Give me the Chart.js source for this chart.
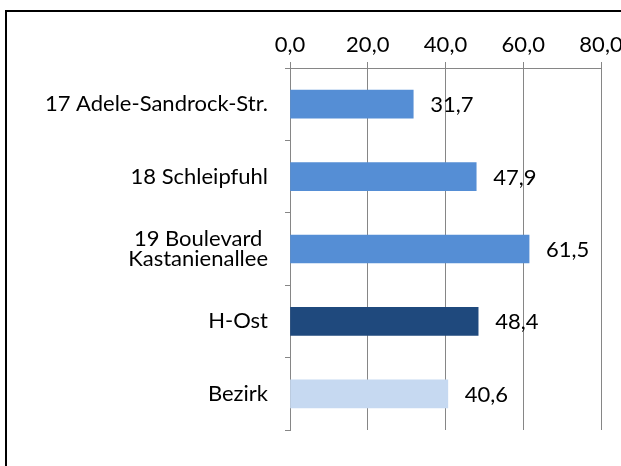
<!DOCTYPE html>
<html>
<head>
<meta charset="utf-8">
<script src="https://cdn.jsdelivr.net/npm/chart.js@4.4.0/dist/chart.umd.min.js"></script>
<style>
  html, body { margin: 0; padding: 0; background: #fff; overflow: hidden; }
  canvas { display: block; }
</style>
</head>
<body>
<canvas id="chart" width="621" height="466"></canvas>
<script>
// data
const categories = ['17 Adele-Sandrock-Str.', '18 Schleipfuhl', ['19 Boulevard ', 'Kastanienallee'], 'H-Ost', 'Bezirk'];
const values = [31.7, 47.9, 61.5, 48.4, 40.6];
const barColors = ['#558ed5', '#558ed5', '#558ed5', '#1f497d', '#c6d9f1'];
const axisMin = 0;
const axisMax = 80;
const axisStep = 20;

const fmt = v => v.toFixed(1).replace('.', ',');
const FONT = 'Lato';
const FONT_SIZE = 22;

// white background + the black frame around the chart (its right/bottom edges are off-picture)
const framePlugin = {
    id: 'frame',
    beforeDraw(chart) {
        const ctx = chart.ctx;
        ctx.save();
        ctx.fillStyle = '#fff';
        ctx.fillRect(0, 0, chart.width, chart.height);
        ctx.strokeStyle = '#000';
        ctx.lineWidth = 2;
        ctx.beginPath();
        ctx.moveTo(6, chart.height + 5);
        ctx.lineTo(6, 11);
        ctx.lineTo(chart.width + 5, 11);
        ctx.stroke();
        ctx.restore();
    }
};

const valueLabels = {
    id: 'valueLabels',
    afterDatasetsDraw(chart) {
        const ctx = chart.ctx;
        const meta = chart.getDatasetMeta(0);
        ctx.save();
        ctx.font = FONT_SIZE + 'px ' + FONT;
        ctx.fillStyle = '#000';
        ctx.textAlign = 'left';
        ctx.textBaseline = 'middle';
        meta.data.forEach((bar, i) => {
            ctx.fillText(fmt(values[i]), bar.x + 17, bar.y + 1);
        });
        ctx.restore();
    }
};

new Chart(document.getElementById('chart'), {
    type: 'bar',
    data: {
        labels: categories,
        datasets: [{
            data: values,
            backgroundColor: barColors,
            borderWidth: 0,
            barThickness: 28
        }]
    },
    options: {
        indexAxis: 'y',
        responsive: false,
        animation: false,
        layout: { padding: { left: 0, top: 0, right: 20, bottom: 36 } },
        plugins: {
            legend: { display: false },
            tooltip: { enabled: false }
        },
        scales: {
            x: {
                position: 'top',
                min: axisMin,
                max: axisMax,
                ticks: {
                    stepSize: axisStep,
                    callback: v => fmt(v),
                    font: { family: FONT, size: FONT_SIZE },
                    color: '#000',
                    padding: 4,
                    maxRotation: 0
                },
                grid: { color: '#868686', lineWidth: 1, tickLength: 6 },
                border: { color: '#868686', width: 1 },
                afterFit(scale) {
                    scale.height = 68;
                    // the last tick label is allowed to run off the right edge, as in the reference
                    scale.paddingRight = 0;
                    scale.paddingLeft = 0;
                }
            },
            y: {
                offset: true,
                ticks: {
                    font: { family: FONT, size: FONT_SIZE, lineHeight: 0.88 },
                    color: '#000',
                    padding: 17
                },
                grid: { offset: true, drawOnChartArea: false, color: '#868686', tickLength: 5 },
                border: { color: '#868686', width: 1 },
                afterFit(scale) { scale.width = 290; }
            }
        }
    },
    plugins: [framePlugin, valueLabels]
});
</script>
</body>
</html>
